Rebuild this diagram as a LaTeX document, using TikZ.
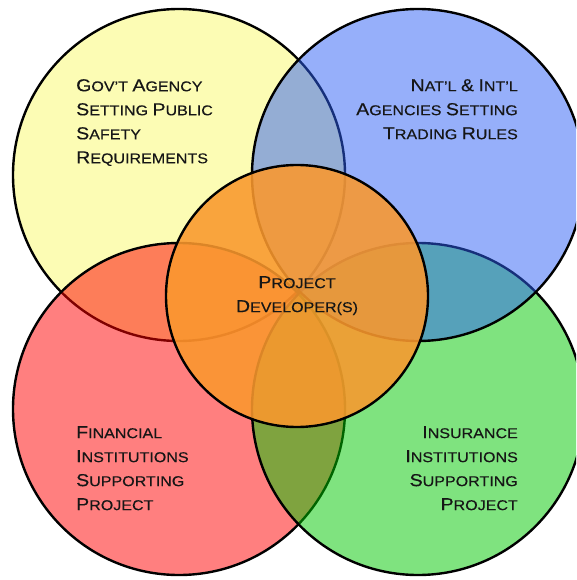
\documentclass[tikz,border=0pt]{standalone}
\usepackage{fontspec}
\setmainfont{Liberation Sans}
\newfontfamily\labfont[FakeStretch=1.13,FakeBold=0.3]{Liberation Sans}
\newcommand\Lb[1]{{\fontsize{17.3}{24}\selectfont #1}}
\definecolor{cyel}{RGB}{249,249,105}
\definecolor{cblu}{RGB}{45,95,245}
\definecolor{cred}{RGB}{255,0,0}
\definecolor{cgrn}{RGB}{0,200,0}
\definecolor{corg}{RGB}{250,152,45}
\definecolor{ctxt}{RGB}{22,22,22}
\tikzset{
  venn/.style={circle, draw=black, line width=2.4pt, inner sep=0pt, minimum size=332pt, fill opacity=0.5, draw opacity=1},
  core/.style={circle, draw=black, line width=2.4pt, inner sep=0pt, minimum size=262pt, fill=corg, fill opacity=0.88, draw opacity=1},
  lab/.style={inner sep=0pt, text=ctxt, font=\labfont\fontsize{14.2}{24}\selectfont}
}
\begin{document}
\begin{tikzpicture}[x=1pt,y=-1pt]
\useasboundingbox (0,0) rectangle (576,580);
\begin{scope}
\clip (0,0) rectangle (576,580);
\node[venn, fill=cyel] (gov) at (179,175) {};
\node[venn, fill=cred] (fin) at (179,409) {};
\node[venn, fill=cgrn] (ins) at (418,409) {};
\node[venn, fill=cblu] (nat) at (418,175) {};
\node[core] (dev) at (297,296) {};
\end{scope}
\node[lab, align=left, anchor=north west] (govt) at (76,79) {\Lb{G}OV’T \Lb{A}GENCY\\\Lb{S}ETTING \Lb{P}UBLIC\\\Lb{S}AFETY\\\Lb{R}EQUIREMENTS};
\node[lab, align=right, anchor=north east] (natt) at (518,79) {\Lb{N}AT’L \Lb{\&} \Lb{I}NT’L\\\Lb{A}GENCIES \Lb{S}ETTING\\\Lb{T}RADING \Lb{R}ULES};
\node[lab, align=center, anchor=north] (devt) at (297,276) {\Lb{P}ROJECT\\\Lb{D}EVELOPER(S)};
\node[lab, align=left, anchor=north west] (fint) at (76,426) {\Lb{F}INANCIAL\\\Lb{I}NSTITUTIONS\\\Lb{S}UPPORTING\\\Lb{P}ROJECT};
\node[lab, align=right, anchor=north east] (inst) at (518,426) {\Lb{I}NSURANCE\\\Lb{I}NSTITUTIONS\\\Lb{S}UPPORTING\\\Lb{P}ROJECT};
\end{tikzpicture}
\end{document}
